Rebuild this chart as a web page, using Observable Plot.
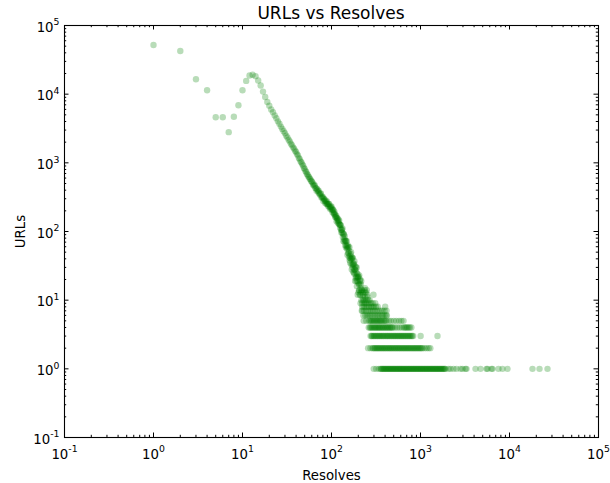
<!DOCTYPE html>
<html>
<head>
<meta charset="utf-8">
<script src="https://cdn.jsdelivr.net/npm/d3@7"></script>
<script src="https://cdn.jsdelivr.net/npm/@observablehq/plot@0.6"></script>
<style>
  body { margin: 0; background: #fff; }
  #chart { position: relative; width: 610px; height: 483px; font-family: "DejaVu Sans", sans-serif; }
  #title { position: absolute; z-index: 1; left: 64px; width: 534px; top: 3px; text-align: center; font-size: 17px; color: #000; }
</style>
</head>
<body>
<div id="chart"><div id="title">URLs vs Resolves</div></div>
<script>
// Number of URLs seen for each resolve count (low resolve counts, one point per count)
const curveResolves = [
  1,2,3,4,5,6,7,8,9,10,11,12,13,14,15,16,17,18,19,20,
  21,22,23,24,25,26,27,28,29,30,31,32,33,34,35,36,37,38,39,40,
  41,42,43,44,45,46,47,48,49,50,51,52,53,54,55,56,57,58,59,60,
  61,62,63,64,65,66,67,68,69,70,71,72,73,74,75,76,77,78,79,80,
  81,82,83,84,85,86,87,88,89,90,91,92,93,94,95,96,97,98,99,100,
  101,102,103,104,105,106,107,108,109,110,111,112,113,114,115,116,117,118,119,120,
  121,122,123,124,125,126,127,128,129,130,131,132,133,134,135,136,137,138,139,140,
  141,142,143,144,145,146,147,148,149,150,151,152,153,154,155,156,157,158,159,160,
  161,162,163,164,165,166,167,168,169,170,171,172,173,174,175,176,177,178,179,180,
  181,182,183,184,185,186,187,188,189,190,191,192,193,194,195,196,197,198,199,200,
  201,202,203,204,205,206,207,208,209,210,211,212,213,214,215,216,217,218,219,220
];
const curveUrls = [
  52000,42500,16500,11400,4600,4600,2800,4700,6900,11400,
  15600,18700,19200,18300,15800,13400,10900,9100,7700,6800,
  6000,5450,4880,4460,4020,3700,3370,3120,2880,2700,
  2480,2340,2170,2050,1900,1810,1680,1610,1500,1440,
  1340,1280,1180,1130,1050,1010,950,905,840,815,
  760,735,688,670,632,620,585,575,545,535,
  518,478,490,459,470,427,426,392,416,398,
  374,388,359,342,354,359,314,325,309,319,
  278,300,295,280,260,283,266,252,274,247,
  252,234,251,251,227,215,228,231,217,232,
  204,214,189,206,205,187,178,192,178,162,
  170,161,170,141,158,156,146,134,151,140,
  130,145,125,127,113,124,124,106,97,105,
  107,96,111,83,94,72,90,91,77,71,
  85,74,63,73,59,72,62,73,56,60,
  46,63,57,49,60,48,43,52,59,38,
  41,35,44,47,40,50,33,40,28,41,
  42,33,30,41,34,26,33,25,34,28,
  37,24,28,19,31,27,21,30,22,19,
  25,30,16,22,19,24,12,21,22,18,
  13,22,17,14,23,14,17,12,19,20,
  12,9,15,17,13,19,10,14,7,14
];

// Higher resolve counts, grouped by how many URLs share them
const resolvesAt1 = [298,318,340,
  355,361,370,376,385,391,401,407,417,423,434,440,451,458,469,477,488,496,508,516,529,537,
  550,559,572,582,595,605,619,630,644,655,670,682,697,709,726,738,755,768,786,799,817,832,
  850,865,885,900,920,937,957,975,996,1014,1036,1055,1078,1098,1122,1142,1167,1188,1214,1236,
  1263,1286,1314,1338,1367,1393,1422,1449,1480,1507,1540,1568,1602,1632,1666,1698,1734,1766,
  1804,1838,1877,1912,
  2064,2174,2349,2538,2814,2964,3203,3288,4150,4723,5515,5657,6277,6442,7522,8343,9495,
  18130,21740,26730];
const resolvesAt2 = [258,274,289,296,305,311,321,327,337,344,354,362,373,380,392,400,412,421,
  435,443,456,466,480,490,505,517,531,543,560,571,588,601,620,633,651,666,685,701,721,737,
  758,776,798,818,840,859,883,904,930,952,978,1001,1029,1054,1110,1170,1235,1290];
const resolvesAt3 = [275,282,287,297,302,312,319,329,335,346,353,364,372,383,390,404,413,425,
  433,447,457,471,481,497,507,522,534,551,562,579,592,609,623,641,656,675,691,711,728,749,
  766,789,807,829,1003,1552];
const resolvesAt4 = [262,270,276,284,290,299,306,313,320,330,336,345,352,363,371,381,389,402,
  410,422,431,444,454,467,478,489,515,545,580,615,650,668,690,710,735,760,790];
const resolvesAt5 = [230,246,263,271,277,285,292,301,308,317,325,333,343,351,360,369,382,393,
  403,414,440,465,500,535,575,610,645];
const resolvesAt6 = [229,240,250,261,272,283,295,309,322,334,348,366,377,394,411,419];
const resolvesAt7 = [223,233,245,257,268,281,294,307,323,338,356,374,395,415];
const resolvesAt8 = [221,231,242,253,264,278,288,300,316,331,401];
const resolvesAt9 = [222,232,241,251,265,279,291,310];
const resolvesAt10 = [226,234,247,259,269];
const resolvesAt11 = [225,239,255];
const resolvesAt12 = [228,252,296];
const resolvesAt13 = [227,237,244];
const resolvesAt14 = [235,249];
const resolvesAt15 = [238];

const rowUrls = [1,2,3,4,5,6,7,8,9,10,11,12,13,14,15];
const rowResolves = [resolvesAt1,resolvesAt2,resolvesAt3,resolvesAt4,resolvesAt5,resolvesAt6,
  resolvesAt7,resolvesAt8,resolvesAt9,resolvesAt10,resolvesAt11,resolvesAt12,resolvesAt13,
  resolvesAt14,resolvesAt15];

// Axis decades and their exponent labels
const tickExponents = [-1,0,1,2,3,4,5];
const minorMultipliers = [2,3,4,5,6,7,8,9];

const points = [
  ...curveResolves.map((r, i) => ({resolves: r, urls: curveUrls[i]})),
  ...rowUrls.flatMap((u, i) => rowResolves[i].map(r => ({resolves: r, urls: u})))
];

const decades = tickExponents.map(e => 10 ** e);
const minorTicks = decades.slice(0, -1).flatMap(d => minorMultipliers.map(m => m * d));
const fmt = d => `10^${tickExponents[decades.indexOf(d)]}`;

const W = 610, H = 483;
const mt = 25, mr = 12, mb = 46, ml = 64;
const innerW = W - ml - mr, innerH = H - mt - mb;
const majorLen = 4.5, minorLen = 2.2;

const svg = Plot.plot({
  width: W, height: H,
  marginTop: mt, marginRight: mr, marginBottom: mb, marginLeft: ml,
  style: {fontFamily: "DejaVu Sans", fontSize: "13.3px", color: "black", background: "white", overflow: "visible"},
  x: {type: "log", domain: [0.1, 1e5]},
  y: {type: "log", domain: [0.1, 1e5]},
  marks: [
    Plot.dot(points, {x: "resolves", y: "urls", r: 3.2, fill: "green", fillOpacity: 0.28, stroke: "none"}),
    // inward tick marks on all four sides
    Plot.ruleX(decades, {insetTop: innerH - majorLen, stroke: "black"}),
    Plot.ruleX(decades, {insetBottom: innerH - majorLen, stroke: "black"}),
    Plot.ruleX(minorTicks, {insetTop: innerH - minorLen, stroke: "black"}),
    Plot.ruleX(minorTicks, {insetBottom: innerH - minorLen, stroke: "black"}),
    Plot.ruleY(decades, {insetRight: innerW - majorLen, stroke: "black"}),
    Plot.ruleY(decades, {insetLeft: innerW - majorLen, stroke: "black"}),
    Plot.ruleY(minorTicks, {insetRight: innerW - minorLen, stroke: "black"}),
    Plot.ruleY(minorTicks, {insetLeft: innerW - minorLen, stroke: "black"}),
    Plot.frame({stroke: "black", strokeWidth: 1.1}),
    Plot.axisX(decades, {tickSize: 0, tickPadding: 12, tickFormat: fmt, label: null}),
    Plot.axisX({label: "Resolves", ticks: [], tickSize: 0, labelAnchor: "center", labelArrow: "none", labelOffset: 42}),
    Plot.axisY(decades, {tickSize: 0, tickPadding: 5, dy: 2, tickFormat: fmt, label: null}),
    Plot.axisY({label: "URLs", ticks: [], tickSize: 0, labelAnchor: "center", labelArrow: "none", labelOffset: 49})
  ]
});

// Render "10^e" tick labels with a raised exponent
svg.querySelectorAll("text").forEach(t => {
  const m = /^10\^(-?\d+)$/.exec(t.textContent);
  if (!m) return;
  t.textContent = "10";
  const sup = document.createElementNS("http://www.w3.org/2000/svg", "tspan");
  sup.setAttribute("font-size", "9.3px");
  sup.setAttribute("dy", "-6.5");
  sup.textContent = m[1];
  t.appendChild(sup);
});

document.getElementById("chart").appendChild(svg);
</script>
</body>
</html>
